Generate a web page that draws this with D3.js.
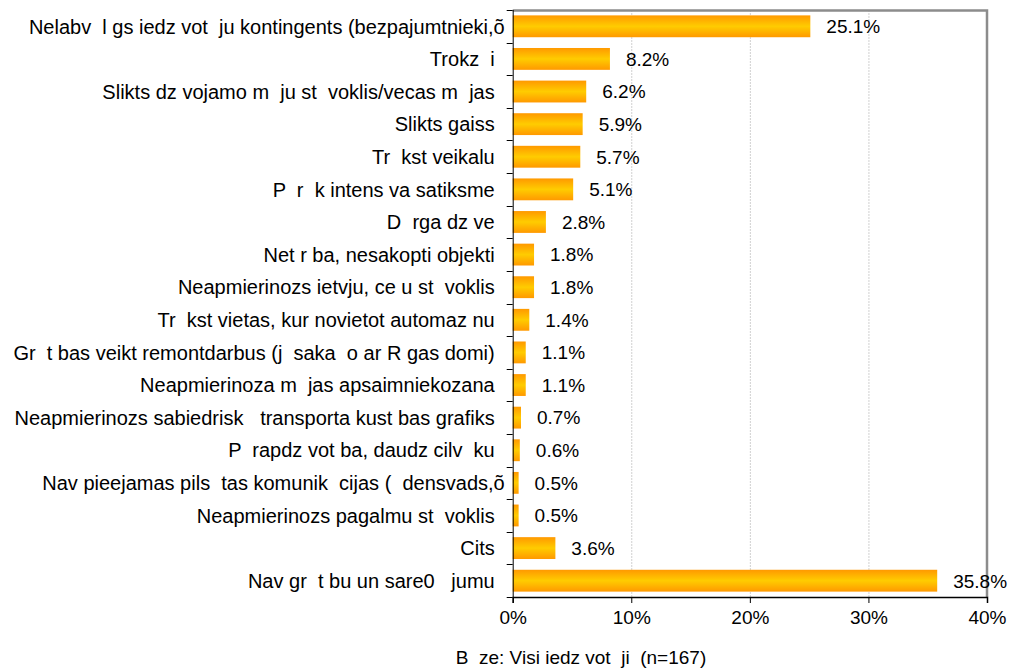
<!DOCTYPE html>
<html>
<head>
<meta charset="utf-8">
<script src="https://cdn.jsdelivr.net/npm/d3@7"></script>
<style>
  body { margin: 0; background: #fff; }
  text { font-family: "Liberation Sans", Arial, sans-serif; white-space: pre; }
</style>
</head>
<body>
<div id="wrapper"></div>
<script>
// chart data
const categories = [
    "Nelabv  l gs iedz vot  ju kontingents (bezpajumtnieki,õ",
    "Trokz  i",
    "Slikts dz vojamo m  ju st  voklis/vecas m  jas",
    "Slikts gaiss",
    "Tr  kst veikalu",
    "P  r  k intens va satiksme",
    "D  rga dz ve",
    "Net r ba, nesakopti objekti",
    "Neapmierinozs ietvju, ce u st  voklis",
    "Tr  kst vietas, kur novietot automaz nu",
    "Gr  t bas veikt remontdarbus (j  saka  o ar R gas domi)",
    "Neapmierinoza m  jas apsaimniekozana",
    "Neapmierinozs sabiedrisk   transporta kust bas grafiks",
    "P  rapdz vot ba, daudz cilv  ku",
    "Nav pieejamas pils  tas komunik  cijas (  densvads,õ",
    "Neapmierinozs pagalmu st  voklis",
    "Cits",
    "Nav gr  t bu un sare0   jumu"
];
const values = [25.1, 8.2, 6.2, 5.9, 5.7, 5.1, 2.8, 1.8, 1.8, 1.4, 1.1, 1.1, 0.7, 0.6, 0.5, 0.5, 3.6, 35.8];
const xTicks = [0, 10, 20, 30, 40];
const baseNote = "B  ze: Visi iedz vot  ji  (n=167)";

function buildPlot() {
    const dimension = {
        width: 1010,
        height: 668,
        margin: { top: 10, right: 23, bottom: 71, left: 512.7 }
    };
    dimension.boundedWidth = dimension.width - dimension.margin.left - dimension.margin.right;
    dimension.boundedHeight = dimension.height - dimension.margin.top - dimension.margin.bottom;

    const wrapper = d3.select("#wrapper")
        .append("svg")
        .attr("width", dimension.width)
        .attr("height", dimension.height);

    // vertical orange -> yellow -> orange fill of the bars
    const grad = wrapper.append("defs").append("linearGradient")
        .attr("id", "barFill")
        .attr("x1", 0).attr("y1", 0).attr("x2", 0).attr("y2", 1);
    grad.append("stop").attr("offset", "0%").attr("stop-color", "#ff9900");
    grad.append("stop").attr("offset", "50%").attr("stop-color", "#ffcc00");
    grad.append("stop").attr("offset", "100%").attr("stop-color", "#ff9900");

    const bounds = wrapper.append("g")
        .attr("transform", `translate(${dimension.margin.left},${dimension.margin.top})`);

    const xScaler = d3.scaleLinear()
        .domain([0, 40])
        .range([0, dimension.boundedWidth]);

    const yScaler = d3.scaleBand()
        .domain(categories)
        .range([0, dimension.boundedHeight])
        .paddingInner(0.33)
        .paddingOuter(0.165);

    // gridlines
    bounds.append("g")
        .selectAll("line")
        .data(xTicks.slice(1, -1))
        .join("line")
        .attr("x1", d => xScaler(d) + 0.5)
        .attr("x2", d => xScaler(d) + 0.5)
        .attr("y1", 0)
        .attr("y2", dimension.boundedHeight)
        .attr("stroke", "#d0d0d0")
        .attr("stroke-dasharray", "2,1");

    // plot frame top + right (gray, slightly heavy)
    bounds.append("path")
        .attr("d", `M0,0.5H${xScaler(40)}V${dimension.boundedHeight}`)
        .attr("fill", "none")
        .attr("stroke", "#8c8c8c")
        .attr("stroke-width", 2.5);

    // bars
    bounds.append("g")
        .selectAll("rect")
        .data(values)
        .join("rect")
        .attr("x", 0)
        .attr("y", (d, i) => yScaler(categories[i]))
        .attr("width", d => xScaler(d))
        .attr("height", yScaler.bandwidth())
        .attr("fill", "url(#barFill)");

    // value labels
    bounds.append("g")
        .selectAll("text")
        .data(values)
        .join("text")
        .attr("x", d => xScaler(d) + 16)
        .attr("y", (d, i) => yScaler(categories[i]) + yScaler.bandwidth() / 2)
        .attr("dy", "0.36em")
        .attr("font-size", 19)
        .attr("fill", "#000")
        .text(d => d.toFixed(1) + "%");

    // y axis: ticks at band boundaries, labels at band centers
    const step = yScaler.step();
    const yAxis = bounds.append("g");
    yAxis.selectAll("line.tick")
        .data(d3.range(categories.length + 1))
        .join("line")
        .attr("class", "tick")
        .attr("x1", -6)
        .attr("x2", 0)
        .attr("y1", i => Math.round(i * step) + 0.5)
        .attr("y2", i => Math.round(i * step) + 0.5)
        .attr("stroke", "#000");
    yAxis.append("line")
        .attr("x1", 0.5).attr("x2", 0.5)
        .attr("y1", 0).attr("y2", dimension.boundedHeight)
        .attr("stroke", "#000");
    // truncated labels (ending in "õ") run a little closer to the axis
    yAxis.selectAll("text")
        .data(categories)
        .join("text")
        .attr("x", d => d.endsWith("õ") ? -8 : -18)
        .attr("y", d => yScaler(d) + yScaler.bandwidth() / 2)
        .attr("dy", "0.36em")
        .attr("text-anchor", "end")
        .attr("font-size", 20)
        .text(d => d);

    // x axis
    const xAxisGenerator = d3.axisBottom(xScaler)
        .tickValues(xTicks)
        .tickSize(6)
        .tickPadding(8)
        .tickFormat(d => d + "%");
    const xAxis = bounds.append("g")
        .attr("transform", `translate(0,${dimension.boundedHeight})`)
        .call(xAxisGenerator);
    xAxis.select(".domain").attr("stroke", "#000").attr("stroke-width", 1.5);
    xAxis.selectAll("text")
        .attr("font-family", "Liberation Sans, Arial, sans-serif")
        .attr("font-size", 19)
        .attr("fill", "#000");

    // base note
    wrapper.append("text")
        .attr("x", 581)
        .attr("y", 664)
        .attr("text-anchor", "middle")
        .attr("font-size", 19)
        .text(baseNote);
}

buildPlot();
</script>
</body>
</html>
